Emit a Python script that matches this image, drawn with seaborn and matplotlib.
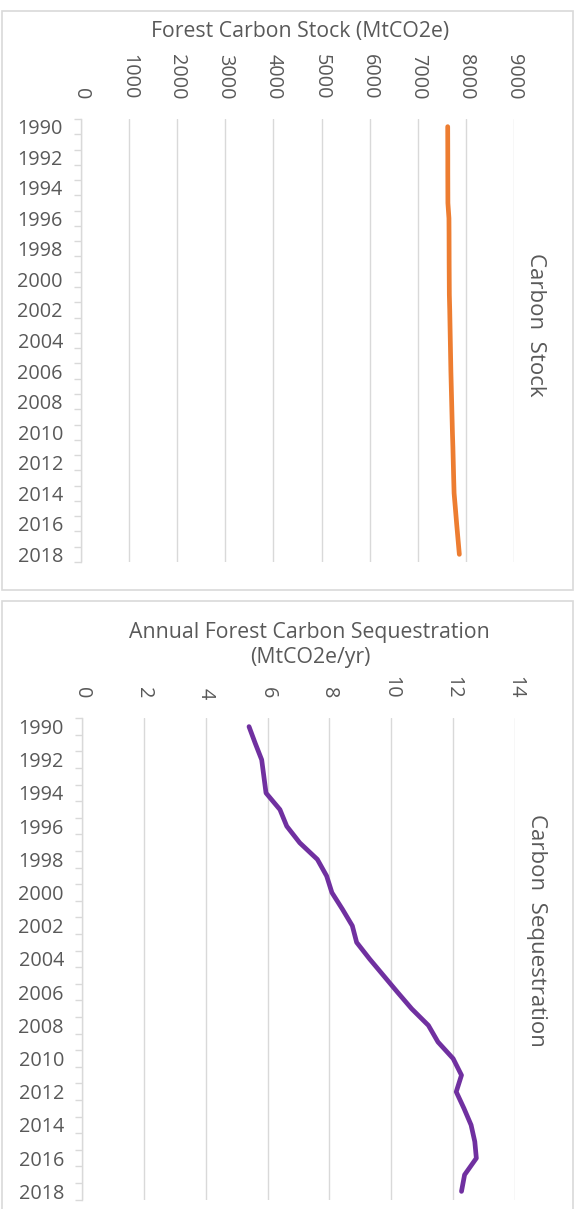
import numpy as np
import pandas as pd
import matplotlib
matplotlib.use("Agg")
import matplotlib.pyplot as plt
import seaborn as sns
from matplotlib.patches import Rectangle
from matplotlib.ticker import FixedLocator

# ---- data ----
years = list(range(1990, 2019))
carbon_stock = [7622, 7623, 7624, 7624, 7625, 7626, 7648, 7650, 7651, 7652,
                7654, 7656, 7664, 7670, 7676, 7682, 7688, 7696, 7704, 7712,
                7720, 7730, 7738, 7746, 7755, 7782, 7808, 7836, 7864]
sequestration = [5.40, 5.60, 5.81, 5.88, 5.95, 6.40, 6.62, 7.04, 7.61, 7.91,
                 8.08, 8.42, 8.74, 8.88, 9.30, 9.75, 10.20, 10.66, 11.20, 11.51,
                 12.00, 12.27, 12.10, 12.35, 12.58, 12.70, 12.75, 12.37, 12.27]
stock_ticks = [0, 1000, 2000, 3000, 4000, 5000, 6000, 7000, 8000, 9000]
seq_ticks = [0, 2, 4, 6, 8, 10, 12, 14]
year_labels = years[::2]

TEXT = "#595959"
GRID = "#d9d9d9"
TICK_FS = 14.3
TITLE_FS = 15.3

sns.set_theme(style="white")
plt.rcParams["font.family"] = ["Open Sans", "DejaVu Sans"]

W, H = 580, 1209
fig = plt.figure(figsize=(W / 100, H / 100), dpi=100)


def fx(px):
    return px / W


def fy(py):
    return 1 - py / H


# chart frames
fig.patches.append(Rectangle((fx(1.5), fy(590)), fx(571.5), (590 - 11.5) / H,
                             transform=fig.transFigure, fill=False,
                             edgecolor=GRID, lw=1.2))
fig.patches.append(Rectangle((fx(1.5), -0.02), fx(571.5), fy(600.5) + 0.02,
                             transform=fig.transFigure, fill=False,
                             edgecolor=GRID, lw=1.2))


def draw_panel(rect, values, color, ticks, xmax):
    ax = fig.add_axes(rect)
    df = pd.DataFrame({"year": years, "value": values})
    sns.lineplot(data=df, x="value", y="year", orient="y", color=color,
                 lw=3.4, ax=ax, solid_capstyle="round")
    ax.set_xlim(0, xmax)
    ax.set_ylim(2018.5, 1989.5)
    ax.set_axisbelow(True)
    ax.set_xlabel("")
    ax.set_ylabel("")

    ax.xaxis.tick_top()
    ax.set_xticks(ticks)
    ax.set_xticklabels([str(t) for t in ticks], rotation=-90)
    ax.tick_params(axis="x", length=0, pad=14, labelsize=TICK_FS,
                   labelcolor=TEXT)

    ax.set_yticks(year_labels)
    ax.set_yticklabels([str(y) for y in year_labels])
    ax.yaxis.set_minor_locator(FixedLocator(np.arange(1989.5, 2019, 1.0)))
    ax.tick_params(axis="y", which="major", length=0, pad=13,
                   labelsize=TICK_FS, labelcolor=TEXT)
    ax.tick_params(axis="y", which="minor", left=True, length=4.8,
                   width=1, color=GRID)

    ax.grid(axis="x", color=GRID, lw=1)
    ax.grid(axis="y", visible=False)
    for side in ("top", "right", "bottom"):
        ax.spines[side].set_visible(False)
    ax.spines["left"].set_color(GRID)
    ax.spines["left"].set_linewidth(1)
    return ax


draw_panel([fx(81), fy(562), fx(514 - 81), (562 - 119) / H],
           carbon_stock, "#ED7D31", stock_ticks, 9000)
draw_panel([fx(82), fy(1199.7), fx(515 - 82), (1199.7 - 718.3) / H],
           sequestration, "#7030A0", seq_ticks, 14)

# titles
fig.text(fx(300), fy(32), "Forest Carbon Stock (MtCO2e)", ha="center",
         va="center", fontsize=TITLE_FS, color=TEXT)
fig.text(fx(309), fy(632), "Annual Forest Carbon Sequestration", ha="center",
         va="center", fontsize=TITLE_FS, color=TEXT)
fig.text(fx(310), fy(657), "(MtCO2e/yr)", ha="center", va="center",
         fontsize=TITLE_FS, color=TEXT)

# series names along the right edge
fig.text(fx(535), fy(325), "Carbon  Stock", rotation=-90, ha="center",
         va="center", fontsize=16, color=TEXT)
fig.text(fx(537), fy(930), "Carbon  Sequestration", rotation=-90, ha="center",
         va="center", fontsize=16, color=TEXT)

fig.savefig("out.png", dpi=100)
